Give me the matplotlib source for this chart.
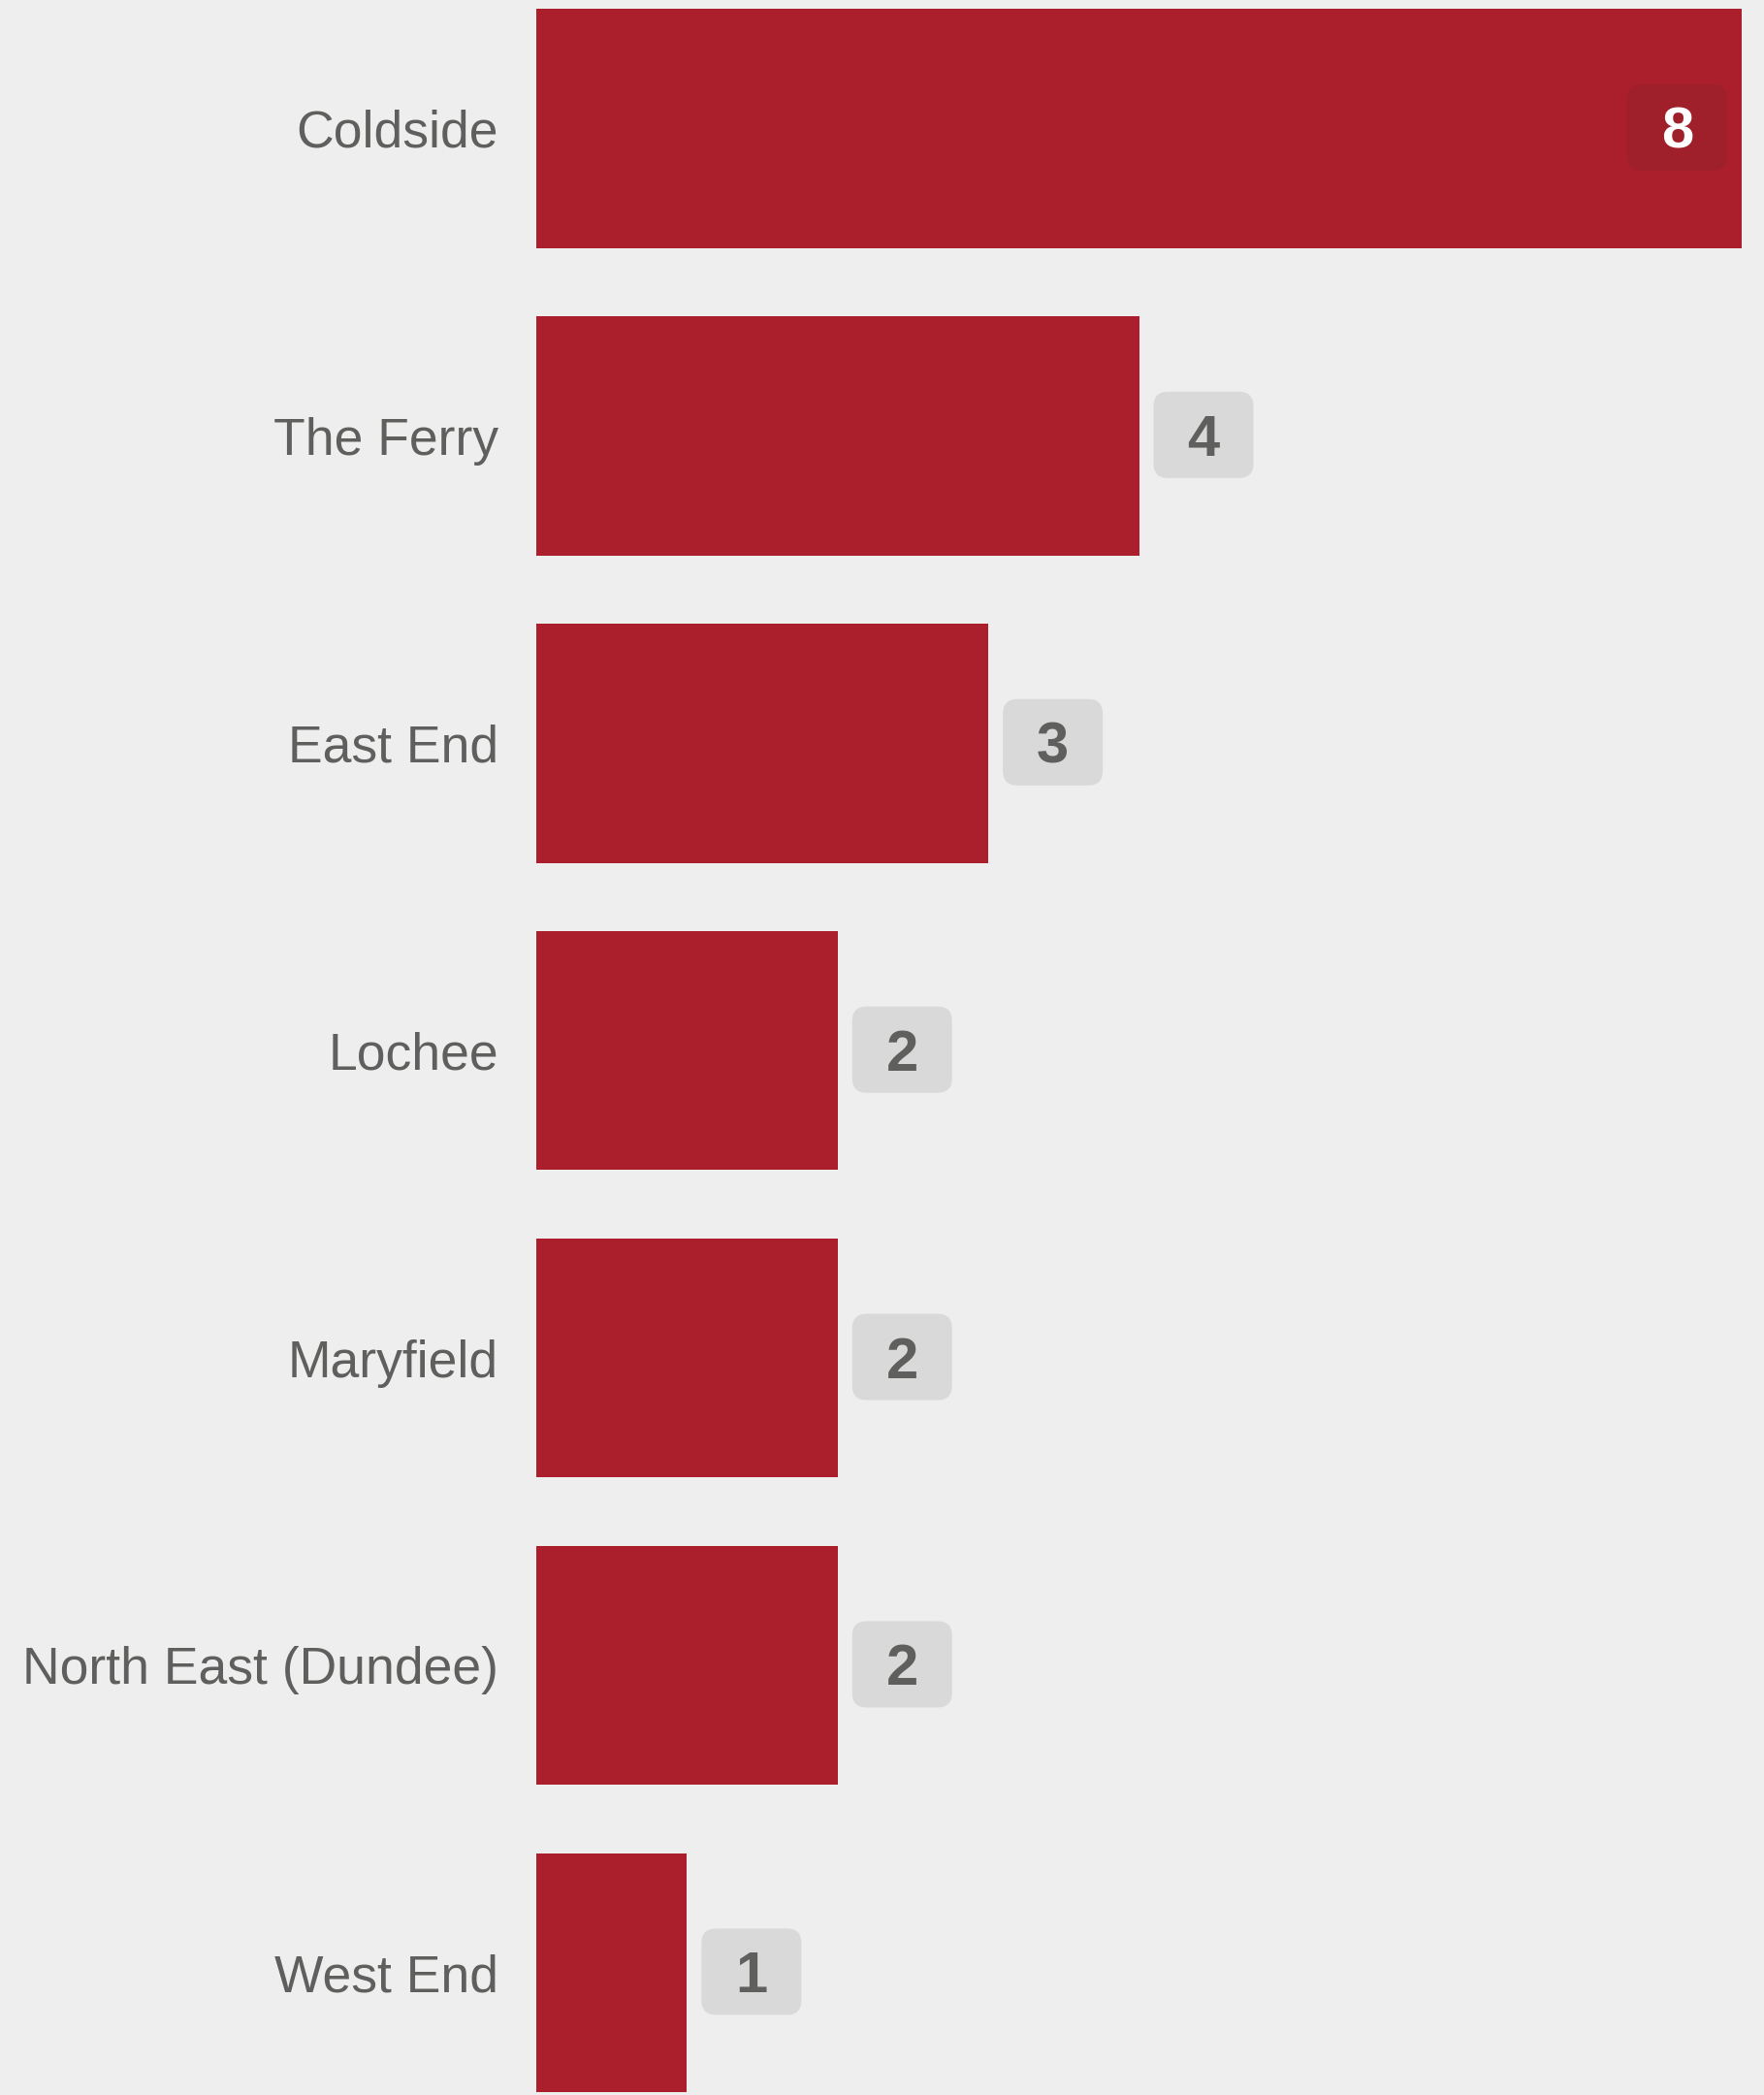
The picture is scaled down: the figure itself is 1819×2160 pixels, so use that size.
import matplotlib
matplotlib.use("Agg")
import matplotlib.pyplot as plt
from matplotlib.patches import FancyBboxPatch
from matplotlib.transforms import IdentityTransform

categories = ["Coldside", "The Ferry", "East End", "Lochee", "Maryfield",
              "North East (Dundee)", "West End"]
values = [8, 4, 3, 2, 2, 2, 1]

BG = "#eeeeee"
BAR = "#ab1f2d"
TXT = "#5f5f5d"
BOX = "#d9d9d9"
BOX_IN = "#9f1f2b"

W, H, DPI = 1819, 2160, 100
fig = plt.figure(figsize=(W / DPI, H / DPI), dpi=DPI, facecolor=BG)
left_px, right_px = 553, 1796
ax = fig.add_axes([left_px / W, 0, (right_px - left_px) / W, 1])
ax.set_facecolor(BG)

ypos = list(range(len(categories)))
ax.barh(ypos, values, height=0.778, color=BAR, linewidth=0)
ax.set_xlim(0, 8)
ax.set_ylim(6.398, -0.418)
ax.set_yticks(ypos)
ax.set_yticklabels(categories, fontsize=38.5, color=TXT, family="Liberation Sans")
ax.tick_params(axis="y", length=0, pad=28)
ax.set_xticks([])
for s in ax.spines.values():
    s.set_visible(False)

fig.canvas.draw()
bw, bh, gap = 103, 89, 15
vmax = max(values)
for i, v in enumerate(values):
    xd, yd = ax.transData.transform((v, i))
    if v == vmax:
        x0 = xd - gap - bw
        fc, tc = BOX_IN, "white"
    else:
        x0 = xd + gap
        fc, tc = BOX, TXT
    y0 = yd - bh / 2 + 1
    p = FancyBboxPatch((x0 + 15, y0 + 15), bw - 30, bh - 30,
                       boxstyle="round,pad=15", transform=IdentityTransform(),
                       facecolor=fc, edgecolor="none")
    fig.patches.append(p)
    fig.text((x0 + bw / 2) / W, (y0 + bh / 2) / H, str(v), ha="center",
             va="center_baseline", fontsize=43, fontweight="heavy",
             color=tc, family="Liberation Sans")

fig.savefig("out.png", dpi=DPI, facecolor=BG)
